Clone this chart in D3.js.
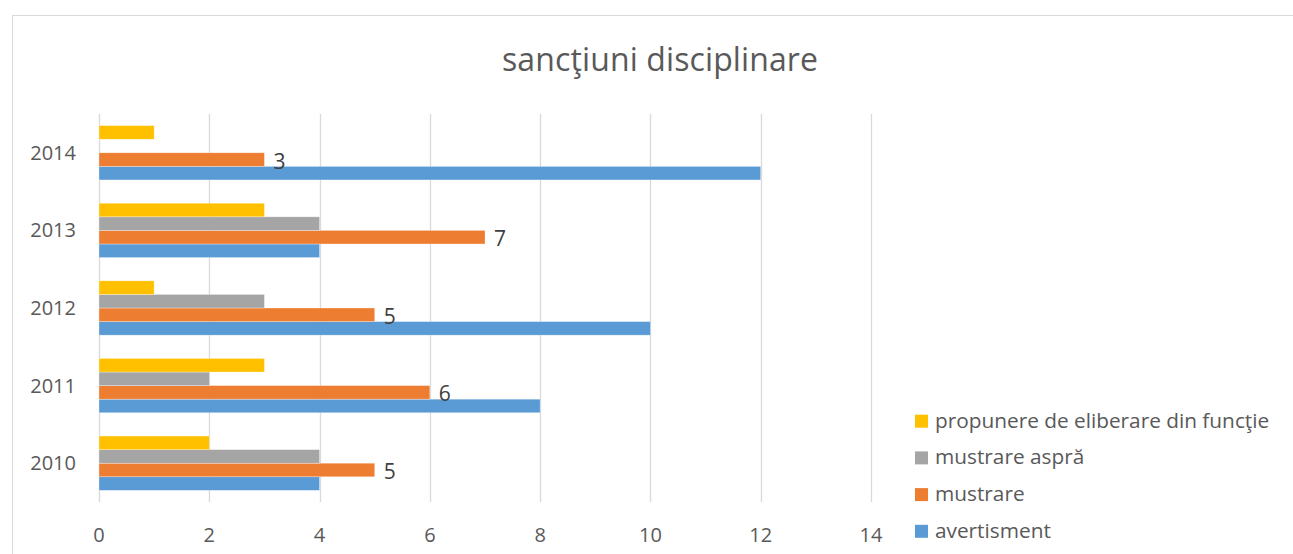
<!DOCTYPE html>
<html>
<head>
<meta charset="utf-8">
<script src="https://cdn.jsdelivr.net/npm/d3@7"></script>
<style>
  body { margin: 0; background: #fff; }
  text { font-family: "Open Sans", sans-serif; fill: #595959; }
</style>
</head>
<body>
<svg id="chart" width="1293" height="554"></svg>
<script>
const years = ['2010', '2011', '2012', '2013', '2014'];
const seriesNames = ['avertisment', 'mustrare', 'mustrare aspră', 'propunere de eliberare din funcţie'];
const avertisment = [4, 8, 10, 4, 12];
const mustrare = [5, 6, 5, 7, 3];
const mustrareAspra = [4, 2, 3, 4, 0];
const propunere = [2, 3, 1, 3, 1];
const xTicks = [0, 2, 4, 6, 8, 10, 12, 14];
const colors = ['#5B9BD5', '#ED7D31', '#A5A5A5', '#FFC000'];

const seriesValues = [avertisment, mustrare, mustrareAspra, propunere];
const margin = {top: 114, left: 99, bottom: 502, right: 871};

const svg = d3.select('#chart');

// chart border
svg.append('rect')
  .attr('x', 12.5).attr('y', 15.5)
  .attr('width', 1300).attr('height', 600)
  .attr('fill', 'none')
  .attr('stroke', '#d9d9d9');

svg.append('text')
  .attr('x', 660).attr('y', 71)
  .attr('text-anchor', 'middle')
  .style('font-size', '32px')
  .attr('textLength', 316)
  .text('sancţiuni disciplinare');

const x = d3.scaleLinear().domain([0, 14]).range([margin.left, margin.right]);
// 2014 on top
const y = d3.scaleBand().domain(years.slice().reverse()).range([margin.top, margin.bottom]).paddingInner(0.3).paddingOuter(0.15);
// inner order top-to-bottom: propunere, aspra, mustrare, avertisment
const inner = d3.scaleBand().domain([3, 2, 1, 0]).range([0, y.bandwidth()]);

// gridlines
svg.append('g')
  .selectAll('line')
  .data(xTicks)
  .join('line')
  .attr('x1', d => Math.round(x(d)) + 0.5)
  .attr('x2', d => Math.round(x(d)) + 0.5)
  .attr('y1', margin.top)
  .attr('y2', margin.bottom)
  .attr('stroke', '#d9d9d9')
  .attr('stroke-width', 1.3);

// x tick labels
svg.append('g')
  .selectAll('text')
  .data(xTicks)
  .join('text')
  .attr('x', d => x(d))
  .attr('y', 542)
  .attr('text-anchor', 'middle')
  .style('font-size', '20px')
  .text(d => d);

// y labels
svg.append('g')
  .selectAll('text')
  .data(years)
  .join('text')
  .attr('x', 76)
  .attr('y', d => y(d) + y.bandwidth() / 2 + 7)
  .attr('text-anchor', 'end')
  .style('font-size', '20px')
  .text(d => d);

// bars
seriesValues.forEach((vals, s) => {
  const g = svg.append('g');
  g.selectAll('rect')
    .data(years.map((yr, i) => ({yr, v: vals[i]})).filter(d => d.v > 0))
    .join('rect')
    .attr('x', x(0))
    .attr('y', d => y(d.yr) + inner(s))
    .attr('width', d => x(d.v) - x(0))
    .attr('height', inner.bandwidth())
    .attr('fill', colors[s])
    .attr('stroke', '#fff')
    .attr('stroke-opacity', 0.5)
    .attr('stroke-width', 0.6);
});

// data labels on mustrare
svg.append('g')
  .selectAll('text')
  .data(years.map((yr, i) => ({yr, v: mustrare[i]})))
  .join('text')
  .attr('x', d => x(d.v) + 9)
  .attr('y', d => y(d.yr) + inner(1) + inner.bandwidth() / 2 + 9)
  .style('font-size', '21px')
  .style('fill', '#404040')
  .text(d => d.v);

// legend
const legendNames = seriesNames.slice().reverse();
const legendColors = colors.slice().reverse();
const legend = svg.append('g');
legendNames.forEach((name, i) => {
  const base = 427.7 + i * 36.7;
  legend.append('rect')
    .attr('x', 915).attr('y', base - 13)
    .attr('width', 13).attr('height', 13)
    .attr('fill', legendColors[i]);
  legend.append('text')
    .attr('x', 935).attr('y', base)
    .style('font-size', '20.8px')
    .text(name);
});
</script>
</body>
</html>
